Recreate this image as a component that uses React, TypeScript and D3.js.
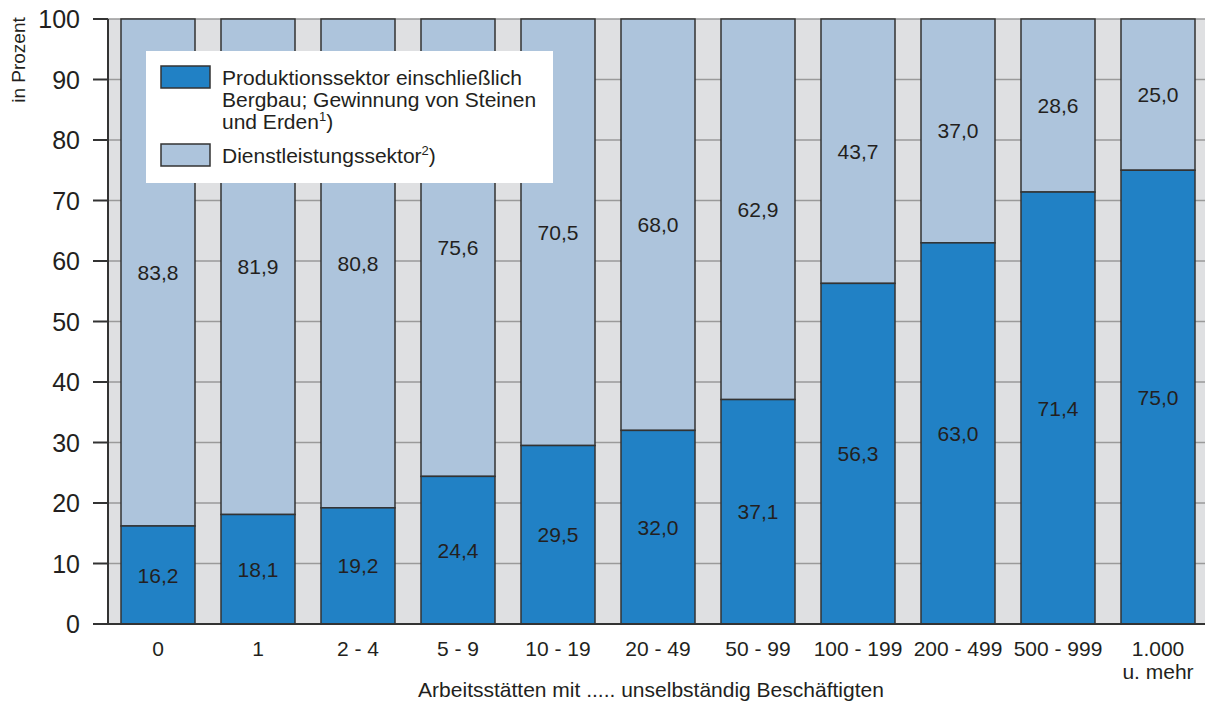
import React from "react";
import { scaleBand, scaleLinear } from "d3";

const categories = ["0", "1", "2 - 4", "5 - 9", "10 - 19", "20 - 49", "50 - 99", "100 - 199", "200 - 499", "500 - 999", "1.000|u. mehr"];
const produktion = [16.2, 18.1, 19.2, 24.4, 29.5, 32.0, 37.1, 56.3, 63.0, 71.4, 75.0];
const dienst = [83.8, 81.9, 80.8, 75.6, 70.5, 68.0, 62.9, 43.7, 37.0, 28.6, 25.0];
const yTickValues = [0, 10, 20, 30, 40, 50, 60, 70, 80, 90, 100];

const WIDTH = 1205;
const HEIGHT = 705;
const PLOT = { left: 108, right: 1208, top: 19, bottom: 624 };

const DARK = "#2181c5";
const LIGHT = "#adc4dc";
const BG = "#dfe0e2";
const FONT = "Liberation Sans, Arial, sans-serif";
const TEXT = "#231f20";

const fmt = (v: number) => v.toFixed(1).replace(".", ",");

export default function App() {
  const x = scaleBand<string>()
    .domain(categories)
    .range([PLOT.left, PLOT.right])
    .paddingInner(0.26)
    .paddingOuter(0.13);
  const y = scaleLinear().domain([0, 100]).range([PLOT.bottom, PLOT.top]);

  return (
    <svg
      width={WIDTH}
      height={HEIGHT}
      style={{ position: "absolute", left: 0, top: 0, background: "#fff" }}
      fontFamily={FONT}
    >
      {/* plot background */}
      <rect x={PLOT.left} y={PLOT.top} width={PLOT.right - PLOT.left} height={PLOT.bottom - PLOT.top} fill={BG} />

      {/* gridlines */}
      {yTickValues.map((t) => (
        <line key={"g" + t} x1={PLOT.left} x2={PLOT.right} y1={y(t)} y2={y(t)} stroke="#9a9a9a" strokeWidth={1.5} />
      ))}

      {/* bars */}
      {categories.map((c, i) => {
        const bx = x(c)!;
        const bw = x.bandwidth();
        return (
          <g key={c}>
            <rect x={bx} y={y(100)} width={bw} height={y(produktion[i]) - y(100)} fill={LIGHT} stroke="#333" strokeWidth={1.5} />
            <rect x={bx} y={y(produktion[i])} width={bw} height={y(0) - y(produktion[i])} fill={DARK} stroke="#333" strokeWidth={1.5} />
            <text x={bx + bw / 2} y={(y(0) + y(produktion[i])) / 2} dy="0.36em" textAnchor="middle" fontSize={21} fill={TEXT}>
              {fmt(produktion[i])}
            </text>
            <text x={bx + bw / 2} y={(y(100) + y(produktion[i])) / 2} dy="0.36em" textAnchor="middle" fontSize={21} fill={TEXT}>
              {fmt(dienst[i])}
            </text>
          </g>
        );
      })}

      {/* axes */}
      <line x1={PLOT.left} x2={PLOT.left} y1={PLOT.top} y2={PLOT.bottom} stroke="#333" strokeWidth={2} />
      <line x1={PLOT.left} x2={PLOT.right} y1={PLOT.bottom} y2={PLOT.bottom} stroke="#333" strokeWidth={2} />
      {yTickValues.map((t) => (
        <g key={"t" + t}>
          <line x1={93} x2={PLOT.left} y1={y(t)} y2={y(t)} stroke="#333" strokeWidth={2} />
          <text x={80} y={y(t)} dy="0.36em" textAnchor="end" fontSize={25} fill={TEXT}>
            {t}
          </text>
        </g>
      ))}
      <text transform="translate(25,60) rotate(-90)" textAnchor="middle" fontSize={19} fill={TEXT}>
        in Prozent
      </text>

      {/* x labels */}
      {categories.map((c) => {
        const lines = c.split("|");
        return (
          <text key={"x" + c} x={x(c)! + x.bandwidth() / 2} y={656} textAnchor="middle" fontSize={21} fill={TEXT}>
            {lines.map((l, j) => (
              <tspan key={j} x={x(c)! + x.bandwidth() / 2} dy={j === 0 ? 0 : 23}>
                {l}
              </tspan>
            ))}
          </text>
        );
      })}
      <text x={651} y={697} textAnchor="middle" fontSize={21} fill={TEXT}>
        Arbeitsstätten mit ..... unselbständig Beschäftigten
      </text>

      {/* legend */}
      <rect x={146} y={51} width={407} height={132} fill="#fff" />
      <rect x={161} y={66} width={49} height={22} fill={DARK} stroke="#333" strokeWidth={1.5} />
      <rect x={161} y={144} width={49} height={22} fill={LIGHT} stroke="#333" strokeWidth={1.5} />
      <text x={222} fontSize={21} fill={TEXT}>
        <tspan x={222} y={85}>Produktionssektor einschließlich</tspan>
        <tspan x={222} y={107}>Bergbau; Gewinnung von Steinen</tspan>
        <tspan x={222} y={129}>und Erden</tspan>
        <tspan fontSize={13} dy={-8}>1</tspan>
        <tspan dy={8}>)</tspan>
        <tspan x={222} y={163}>Dienstleistungssektor</tspan>
        <tspan fontSize={13} dy={-8}>2</tspan>
        <tspan dy={8}>)</tspan>
      </text>
    </svg>
  );
}
